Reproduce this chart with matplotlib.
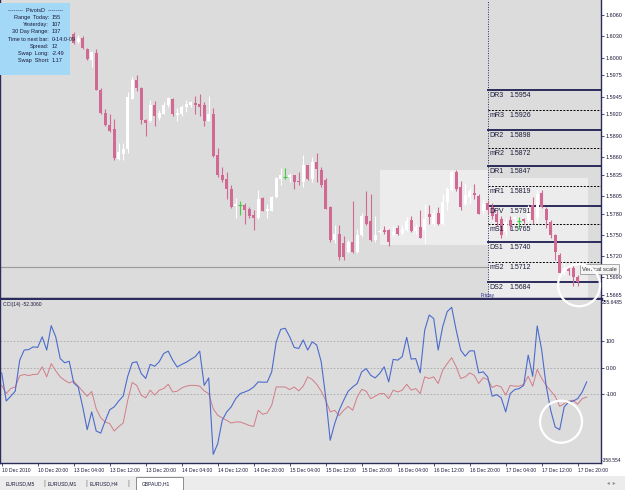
import matplotlib
matplotlib.use('Agg')
import matplotlib.pyplot as plt
from matplotlib.patches import Rectangle, Circle
from matplotlib.transforms import IdentityTransform

plt.rcParams['font.family'] = ['Liberation Sans', 'DejaVu Sans']

# GBPAUD,H1 candles (first visible candle sits at bar 16 of the common axis)
first_bar = 16
opens = [1.6033, 1.6022, 1.6027, 1.6012, 1.5997, 1.6007, 1.5954, 1.5922, 1.5905, 1.5899,
         1.5857, 1.5864, 1.5871, 1.5942, 1.5968, 1.5957, 1.5912, 1.5910, 1.5933, 1.5915,
         1.5921, 1.5933, 1.5942, 1.5919, 1.5921, 1.5930, 1.5933, 1.5936, 1.5934, 1.5933,
         1.5911, 1.5921, 1.5863, 1.5834, 1.5829, 1.5815, 1.5791, 1.5792, 1.5792, 1.5787,
         1.5778, 1.5774, 1.5802, 1.5784, 1.5784, 1.5804, 1.5829, 1.5832, 1.5831, 1.5834,
         1.5826, 1.5825, 1.5848, 1.5829, 1.5853, 1.5842, 1.5827, 1.5790, 1.5743, 1.5751,
         1.5738, 1.5726, 1.5740, 1.5726, 1.5750, 1.5776, 1.5769, 1.5743, 1.5754, 1.5757,
         1.5757, 1.5750, 1.5760, 1.5752, 1.5757, 1.5771, 1.5756, 1.5761, 1.5757, 1.5779,
         1.5765, 1.5781, 1.5765, 1.5797, 1.5813, 1.5839, 1.5818, 1.5794, 1.5804, 1.5809,
         1.5805, 1.5783, 1.5795, 1.5789, 1.5779, 1.5772, 1.5754, 1.5771, 1.5773, 1.5769,
         1.5772, 1.5771, 1.5792, 1.5774, 1.5809, 1.5786, 1.5768, 1.5750, 1.5722, 1.5697,
         1.5703, 1.5703, 1.5691]
highs = [1.6036, 1.6032, 1.6031, 1.6014, 1.6009, 1.6012, 1.5957, 1.5928, 1.5920, 1.5913,
         1.5879, 1.5879, 1.5952, 1.5973, 1.5976, 1.5958, 1.5913, 1.5940, 1.5939, 1.5926,
         1.5937, 1.5944, 1.5943, 1.5929, 1.5933, 1.5940, 1.5939, 1.5946, 1.5948, 1.5937,
         1.5946, 1.5929, 1.5872, 1.5846, 1.5839, 1.5821, 1.5802, 1.5798, 1.5795, 1.5789,
         1.5785, 1.5813, 1.5803, 1.5793, 1.5805, 1.5832, 1.5844, 1.5844, 1.5837, 1.5835,
         1.5839, 1.5863, 1.5849, 1.5860, 1.5865, 1.5846, 1.5830, 1.5791, 1.5764, 1.5764,
         1.5748, 1.5743, 1.5798, 1.5759, 1.5781, 1.5812, 1.5808, 1.5776, 1.5758, 1.5762,
         1.5759, 1.5762, 1.5764, 1.5764, 1.5775, 1.5776, 1.5766, 1.5785, 1.5794, 1.5792,
         1.5786, 1.5790, 1.5808, 1.5817, 1.5841, 1.5841, 1.5826, 1.5823, 1.5816, 1.5822,
         1.5808, 1.5801, 1.5799, 1.5795, 1.5785, 1.5777, 1.5774, 1.5777, 1.5777, 1.5775,
         1.5774, 1.5792, 1.5803, 1.5813, 1.5813, 1.5789, 1.5771, 1.5751, 1.5724, 1.5710,
         1.5706, 1.5708, 1.5693]
lows = [1.6019, 1.6020, 1.6012, 1.5996, 1.5987, 1.5955, 1.5920, 1.5903, 1.5895, 1.5855,
        1.5856, 1.5855, 1.5865, 1.5941, 1.5953, 1.5907, 1.5889, 1.5909, 1.5903, 1.5912,
        1.5920, 1.5931, 1.5917, 1.5911, 1.5917, 1.5923, 1.5931, 1.5921, 1.5918, 1.5904,
        1.5910, 1.5860, 1.5832, 1.5825, 1.5801, 1.5788, 1.5774, 1.5778, 1.5765, 1.5774,
        1.5757, 1.5772, 1.5783, 1.5774, 1.5783, 1.5802, 1.5821, 1.5829, 1.5824, 1.5815,
        1.5821, 1.5818, 1.5827, 1.5825, 1.5825, 1.5818, 1.5786, 1.5740, 1.5739, 1.5714,
        1.5715, 1.5725, 1.5725, 1.5725, 1.5747, 1.5764, 1.5742, 1.5740, 1.5752, 1.5751,
        1.5734, 1.5748, 1.5750, 1.5750, 1.5756, 1.5754, 1.5751, 1.5745, 1.5738, 1.5766,
        1.5762, 1.5764, 1.5764, 1.5785, 1.5812, 1.5812, 1.5785, 1.5792, 1.5794, 1.5800,
        1.5779, 1.5780, 1.5779, 1.5772, 1.5762, 1.5746, 1.5748, 1.5757, 1.5766, 1.5758,
        1.5767, 1.5768, 1.5766, 1.5768, 1.5788, 1.5760, 1.5746, 1.5715, 1.5696, 1.5694,
        1.5694, 1.5678, 1.5678]
closes = [1.6020, 1.6028, 1.6013, 1.5998, 1.6008, 1.5955, 1.5922, 1.5905, 1.5897, 1.5858,
          1.5867, 1.5871, 1.5945, 1.5968, 1.5957, 1.5912, 1.5908, 1.5933, 1.5917, 1.5922,
          1.5933, 1.5943, 1.5920, 1.5922, 1.5931, 1.5934, 1.5937, 1.5933, 1.5931, 1.5911,
          1.5921, 1.5861, 1.5834, 1.5828, 1.5814, 1.5790, 1.5793, 1.5792, 1.5785, 1.5777,
          1.5774, 1.5801, 1.5784, 1.5787, 1.5804, 1.5830, 1.5834, 1.5832, 1.5834, 1.5825,
          1.5824, 1.5848, 1.5829, 1.5853, 1.5843, 1.5820, 1.5787, 1.5743, 1.5751, 1.5719,
          1.5719, 1.5740, 1.5726, 1.5750, 1.5776, 1.5766, 1.5743, 1.5750, 1.5756, 1.5754,
          1.5740, 1.5754, 1.5751, 1.5759, 1.5770, 1.5756, 1.5761, 1.5746, 1.5773, 1.5775,
          1.5781, 1.5765, 1.5797, 1.5814, 1.5839, 1.5814, 1.5790, 1.5806, 1.5812, 1.5806,
          1.5780, 1.5794, 1.5785, 1.5777, 1.5768, 1.5750, 1.5768, 1.5763, 1.5775, 1.5769,
          1.5770, 1.5788, 1.5771, 1.5808, 1.5789, 1.5771, 1.5750, 1.5726, 1.5696, 1.5703,
          1.5699, 1.5691, 1.5684]

# CCI(14) and its red companion line, one value per bar from bar 0
cci_main = [-19, -125, -107, -88, 29, 67, 69, 79, 77, 117, 67, 159, 117, 35, 19, 25, -57, -72,
            -147, -233, -166, -238, -246, -200, -158, -147, -125, -106, -32, 19, 23, -21, -40,
            13, 6, 23, 54, 63, 29, 3, 13, 21, 32, 42, 63, -66, -38, -326, -286, -198, -166,
            -147, -116, -97, -91, -84, -72, -53, -54, -54, -15, 98, 145, 149, 117, 77, 73,
            105, 67, 98, 86, 23, -110, -273, -210, -160, -122, -88, -72, -59, -15, -3, -28,
            -38, -21, 4, -53, 32, 29, 42, 115, 33, 35, -19, 142, 199, 186, 67, 155, 212, 228,
            142, 67, 44, 64, 64, -19, -15, -34, -107, -101, -113, -166, -97, -82, -78, -66,
            48, -32, 158, 67, -69, -160, -223, -233, -147, -129, -125, -116, -91, -53]
cci_signal = [-66, -97, -78, -72, -30, -25, -29, -25, -24, 4, -34, 16, -11, -34, -47, -57, -50,
              -69, -88, -107, -89, -154, -188, -204, -210, -238, -221, -208, -122, -55, -66,
              -103, -113, -84, -103, -84, -78, -62, -91, -88, -76, -69, -66, -66, -69, -87, -97,
              -154, -179, -188, -198, -208, -204, -204, -210, -217, -221, -160, -175, -170,
              -141, -72, -72, -72, -82, -72, -87,
              -69, -34, -44, -62, -88, -122, -166, -160, -180, -160, -145, -160, -110, -81, -88,
              -116, -107, -97, -97, -116, -84, -91, -84, -62, -84, -78, -97, -34, -40, -34, -59,
              -9, 16, 38, 4, -40, -34, -19, -28, -59, -37, -44, -74, -66, -72, -103, -66, -69,
              -69, -62, -32, -69, -6, -40, -66, -87, -107, -145, -135, -125, -122, -137, -116,
              -110]
cci_title = 'CCI(14) -52.3060'
cci_min, cci_max = -358.554, 255.6485

time_ticks = [0, 8, 16, 24, 32, 40, 48, 56, 64, 72, 80, 88, 96, 104, 112, 120, 128]
time_labels = ['10 Dec 2010', '10 Dec 20:00', '13 Dec 04:00', '13 Dec 12:00', '13 Dec 20:00',
               '14 Dec 04:00', '14 Dec 12:00', '14 Dec 20:00', '15 Dec 04:00', '15 Dec 12:00',
               '15 Dec 20:00', '16 Dec 04:00', '16 Dec 12:00', '16 Dec 20:00', '17 Dec 04:00',
               '17 Dec 12:00', '17 Dec 20:00']
price_ticks = [1.6060, 1.6030, 1.6000, 1.5975, 1.5945, 1.5920, 1.5890, 1.5860, 1.5835,
               1.5805, 1.5780, 1.5750, 1.5720, 1.5690, 1.5665]

# daily pivots drawn from the start of Friday
friday_start = 108
pivot_names = ['DR3', 'mR3', 'DR2', 'mR2', 'DR1', 'mR1', 'DPV', 'mS1', 'DS1', 'mS2', 'DS2']
pivot_values = [1.5954, 1.5926, 1.5898, 1.5872, 1.5847, 1.5819, 1.5791, 1.5765, 1.5740,
                1.5712, 1.5684]
level_line = 1.5705
# shaded boxes: (start bar, end bar, low, high)
zones = [(84, 108, 1.5736, 1.5842), (108, 130.3, 1.5660, 1.5830)]
# white highlight circles: (bar, value)
mark_price = (128.3, 1.5679)
mark_cci = (124.3, -203)

info_labels = ['Range  Today:', 'Yesterday:', '30 Day Range:', 'Time to next bar:',
               'Spread:', 'Swap  Long:', 'Swap  Short:']
info_values = ['155', '107', '137', '0-14:0-09', '12', '-2.49', '1.17']
tabs = ['EURUSD,M5', 'EURUSD,M1', 'EURUSD,H4', 'GBPAUD,H1']

W, H = 625, 490
BG = '#dcdcdc'
FRAME = '#2c2c5c'
TXT = '#1a1a3a'
BEAR = '#d06a92'
DOJI = '#3dcf3d'
SMALL = 3.6

fig = plt.figure(figsize=(W / 100, H / 100), dpi=100, facecolor='white')


def px_axes(x0, y0, x1, y1):
    return fig.add_axes([x0 / W, 1 - y1 / H, (x1 - x0) / W, (y1 - y0) / H])


xlo, xhi = -0.38, 133.18
ax = px_axes(0, 0, 601, 299)
ax2 = px_axes(0, 300, 601, 463)
for a in (ax, ax2):
    a.set_facecolor(BG)
    a.set_xlim(xlo, xhi)
    for s in a.spines.values():
        s.set_color(FRAME)
        s.set_linewidth(1)
    a.spines['top'].set_visible(False)
    a.yaxis.tick_right()
    a.tick_params(axis='y', length=2, width=0.6, pad=1.5, labelsize=4,
                  colors=TXT, color=FRAME)
ax.spines['bottom'].set_linewidth(2.5)
ax.set_ylim(1.56596, 1.60812)

# ---- price panel
for x0, x1, lo, hi in zones:
    ax.add_patch(Rectangle((x0, lo), x1 - x0, hi - lo, fc='#ececec', ec='none', zorder=1))

ax.plot([xlo, friday_start], [level_line, level_line], color='#9a9a9a', lw=0.8, zorder=1.5)

for i, (o, h, l, c) in enumerate(zip(opens, highs, lows, closes)):
    x = first_bar + i
    if o == c:
        col = DOJI
    elif c > o:
        col = 'white'
    else:
        col = BEAR
    ax.vlines(x, l, h, color=col, lw=0.8, zorder=3)
    if o == c:
        ax.hlines(o, x - 0.4, x + 0.4, color=col, lw=0.8, zorder=3)
    else:
        ax.bar(x, abs(c - o), bottom=min(o, c), width=0.66, color=col, lw=0, zorder=4)

for name, val in zip(pivot_names, pivot_values):
    if name.startswith('m'):
        ax.plot([friday_start, xhi], [val, val], color='black', lw=0.7,
                ls=(0, (2, 1.5)), zorder=2)
    else:
        ax.plot([friday_start, xhi], [val, val], color=FRAME, lw=1.4, zorder=2)
    ax.annotate(name, (friday_start, val), xytext=(1.5, -1.5), textcoords='offset points',
                fontsize=5, color=TXT, va='top', ha='left', zorder=6)
    ax.annotate('%.4f' % val, (friday_start, val), xytext=(16, -1.5),
                textcoords='offset points', fontsize=5, color=TXT, va='top', ha='left',
                zorder=6)

ax.axvline(friday_start, color=FRAME, lw=0.7, ls=(0, (1, 1.5)), zorder=2)
ax.text(friday_start, 1.56605, 'Friday', fontsize=SMALL, color='#2a2a8a', ha='center',
        va='bottom', zorder=6)

ax.set_xticks([])
ax.set_yticks(price_ticks)
ax.set_yticklabels(['%.4f' % p for p in price_ticks])

# ---- CCI panel
ax2.set_ylim(cci_min, cci_max)
for lv in (100, 0, -100):
    ax2.axhline(lv, color='#a8a8a8', lw=0.6, ls=(0, (2, 2)), zorder=1)
bars = list(range(len(cci_main)))
ax2.plot(bars, cci_signal, color='#d27c88', lw=0.7, zorder=2)
ax2.plot(bars, cci_main, color='#4c6bcc', lw=0.8, zorder=3)
ax2.text(0.005, 0.985, cci_title, transform=ax2.transAxes, fontsize=SMALL, color=TXT,
         va='top', ha='left')
ax2.set_yticks([100, 0, -100])
ax2.set_yticklabels(['100', '0.00', '-100'])
fig.text(602 / W, 1 - 303 / H, '%.4f' % cci_max, fontsize=SMALL, color=TXT, va='center')
fig.text(601.5 / W, 1 - 460 / H, '%.3f' % cci_min, fontsize=SMALL, color=TXT, va='center')

ax2.set_xticks(time_ticks)
ax2.set_xticklabels(time_labels)
ax2.tick_params(axis='x', length=2, width=0.6, pad=1.5, labelsize=SMALL, colors=TXT,
                color=FRAME)
for lbl in ax2.get_xticklabels():
    lbl.set_ha('left')

# ---- info box (PivotsD)
fig.add_artist(Rectangle((0, 1 - 75 / H), 70 / W, 72 / H, transform=fig.transFigure,
                         fc='#a3d8f6', ec='none', zorder=5))
fig.text(36 / W, 1 - 10 / H, '--------  PivotsD  --------', fontsize=4, color=TXT,
         ha='center', va='center', zorder=6)
for n, (lab, val) in enumerate(zip(info_labels, info_values)):
    yy = 1 - (17.5 + 7.2 * n) / H
    fig.text(49 / W, yy, lab, fontsize=4, color=TXT, ha='right', va='center', zorder=6)
    fig.text(52 / W, yy, val, fontsize=4, color=TXT, ha='left', va='center', zorder=6)

# ---- tooltip and highlight circles
fig.text(582 / W, 1 - 269 / H, 'Vertical scale', fontsize=4.2, color='#333333',
         va='center', ha='left', zorder=8,
         bbox=dict(boxstyle='square,pad=0.35', fc='#f4f4f4', ec='#888888', lw=0.5))
for a, pt in ((ax, mark_price), (ax2, mark_cci)):
    cx, cy = a.transData.transform(pt)
    fig.add_artist(Circle((cx, cy), 21, transform=IdentityTransform(), fill=False,
                          ec='white', lw=1.6, zorder=9))

# ---- tab bar
fig.add_artist(Rectangle((0, 0), 1, 14 / H, transform=fig.transFigure, fc='#ececec',
                         ec='none', zorder=5))
fig.add_artist(Rectangle((136 / W, 0), 47 / W, 13 / H, transform=fig.transFigure,
                         fc='white', ec='#7a7a7a', lw=0.6, zorder=6))
tab_x = [6, 48, 90, 142]
for n, (t, tx) in enumerate(zip(tabs, tab_x)):
    fig.text(tx / W, 6.5 / H, t, fontsize=SMALL, color=TXT, va='center', ha='left', zorder=7)
    if n < 3:
        fig.text((tx + 37) / W, 6.5 / H, '|', fontsize=5, color='#777777', va='center',
                 zorder=7)
fig.text(607 / W, 6.5 / H, '\u25c2  \u25b8', fontsize=4, color='#888888', va='center',
         zorder=7)

fig.savefig('out.png', dpi=100, facecolor='white')
